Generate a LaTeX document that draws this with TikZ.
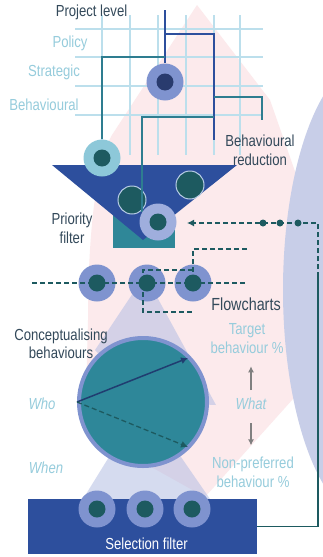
\documentclass[tikz,border=0pt]{standalone}
\usepackage{fontspec}
\setmainfont{Liberation Sans}
\newfontfamily\narrowsf[FakeStretch=0.82]{Liberation Sans}
\usetikzlibrary{arrows.meta}

\definecolor{pinkbg}{HTML}{FCEAEC}
\definecolor{ellipsebg}{HTML}{C8CEE8}
\definecolor{conefill}{HTML}{B4BEE3}
\definecolor{gridblue}{HTML}{BCDFEC}
\definecolor{skyblue}{HTML}{96CCDC}
\definecolor{slate}{HTML}{33495A}
\definecolor{navyblue}{HTML}{2D4F9D}
\definecolor{boxteal}{HTML}{2F8798}
\definecolor{lineteal}{HTML}{2E7D90}
\definecolor{darkteal}{HTML}{1D5A60}
\definecolor{lavender}{HTML}{7F93CF}
\definecolor{lavlight}{HTML}{9FAEDD}
\definecolor{cyanring}{HTML}{8DC8D9}
\definecolor{navydot}{HTML}{293B6E}
\definecolor{paleblue}{HTML}{B8CCE6}
\definecolor{tealmid}{HTML}{2E8799}
\definecolor{arrownavy}{HTML}{203D70}
\definecolor{grayarr}{HTML}{808080}

\begin{document}
\begin{tikzpicture}[x=1pt, y=-1pt, >={Latex[length=7pt,width=7pt]},
    lbl/.style={font=\narrowsf\fontsize{16}{19}\selectfont, inner sep=0pt},
    dark/.style={lbl, text=slate},
    light/.style={lbl, text=skyblue},
    ring/.style={circle, inner sep=0pt, minimum size=37pt, fill=lavender,
        path picture={\fill[#1] (path picture bounding box.center) circle (8.5pt);}},
    ring/.default=darkteal,
    pebble/.style={circle, inner sep=0pt, minimum size=28pt, fill=darkteal, draw=paleblue, line width=1pt},
    treeline/.style={draw=lineteal, line width=1.8pt},
    navyline/.style={draw=navyblue, line width=1.8pt},
    dashline/.style={draw=darkteal, line width=1.3pt, dash pattern=on 5pt off 3pt},
    cone/.style={fill=conefill, fill opacity=0.55},
    gridline/.style={draw=gridblue, line width=1.3pt},
    grayarrow/.style={draw=grayarr, line width=1.8pt, -{Latex[length=6pt,width=6pt]}}]
    \useasboundingbox (0,0) rectangle (322,557);
    \fill[white] (0,0) rectangle (322,557);

    % backdrop
    \fill[pinkbg] (197,5) -- (112,135) .. controls (95,165) and (88,240) .. (88,320)
        -- (85,430) -- (205,497) -- (310,380) -- (305,200) -- (270,100) -- cycle;
    \fill[ellipsebg] (370,290) ellipse [x radius=87pt, y radius=230pt];
    \fill[cone] (143,402) -- (83,499) -- (210,499) -- cycle;
    \fill[cone] (145,275) -- (216,405) -- (143,402) -- (95,350) -- cycle;

    % levels grid
    \foreach \y in {29,57,86,115} \draw[gridline] (75,\y) -- (263,\y);
    \foreach \x in {102,130,158,186,214,240} \draw[gridline] (\x,15) -- (\x,155);

    % priority funnel
    \node[fill=boxteal, minimum width=62pt, minimum height=38pt, inner sep=0pt] (outlet) at (144,229) {};
    \fill[navyblue] (52,165) -- (237,165) -- (143,240) -- cycle;
    \node[pebble] (p1) at (132,200) {};
    \node[pebble] (p2) at (190,185) {};

    \coordinate (plv) at (165,10);
    \node[ring=navydot] (goal) at (165,82) {};
    \node[ring, fill=cyanring] (policy) at (102,158) {};
    \draw[navyline] (plv) -- (goal);
    \coordinate (nj) at (165,34); \coordinate (nr) at (214,140);
    \draw[navyline] (nj) -| (nr);
    \coordinate (tj) at (214,97); \coordinate (tr) at (262,120);
    \draw[treeline] (tj) -| (tr);
    \coordinate (sj) at (165,57);
    \draw[treeline] (sj) -| (policy);
    \coordinate (bj) at (214,117); \coordinate (bd) at (142,212);
    \draw[treeline] (bj) -| (bd);
    \node[ring, fill=lavlight] (chosen) at (158,222) {};

    % flowchart row
    \node[ring] (f1) at (97,283) {};
    \node[ring] (f2) at (147,283) {};
    \node[ring] (f3) at (193,283) {};
    \coordinate (rl) at (32,283); \coordinate (rr) at (247,283);
    \draw[dashline] (rl) -- (rr);
    \coordinate (ub) at (247,249);
    \draw[dashline] (ub) -| (f3.center);
    \coordinate (l1) at (193,270); \coordinate (l2) at (143,312); \coordinate (l3) at (193,312);
    \draw[dashline] (l1) -| (l2) -- (l3);

    % conceptualising circle
    \node[circle, fill=tealmid, draw=lavender, line width=4pt, minimum size=128pt, inner sep=0pt] (concept) at (143,402) {};
    \coordinate (who) at (77,402); \coordinate (tgt) at (188,358); \coordinate (npf) at (188,447);
    \draw[->, draw=arrownavy, line width=1.5pt] (who) -- (tgt);
    \draw[->, dashline] (who) -- (npf);

    % selection filter
    \node[fill=navyblue, minimum width=229pt, minimum height=55pt, inner sep=0pt] (select) at (142.5,526.5) {};
    \node[ring] (s1) at (97,509) {};
    \node[ring] (s2) at (145,509) {};
    \node[ring] (s3) at (192,509) {};

    % feedback loop
    \coordinate (fbk) at (318,277); \coordinate (fin) at (187,223);
    \draw[draw=darkteal, line width=1.3pt] (select.east) -| (fbk);
    \draw[dashline, ->] (fbk) |- (fin);
    \foreach \x in {263,280,298} \fill[darkteal] (\x,223) circle (3.5pt);

    % labels
    \node[dark, anchor=base] (proj) at (91.5,16) {Project level};
    \node[light, anchor=base] (pol) at (70,47.5) {Policy};
    \node[light, anchor=base] (strat) at (54,76.5) {Strategic};
    \node[light, anchor=base] (behav) at (44,110) {Behavioural};
    \node[dark, align=center] (reduce) at (260,150) {Behavioural\\reduction};
    \node[dark, align=center] (prio) at (72,228) {Priority\\filter};
    \node[dark, anchor=base, font=\narrowsf\fontsize{17.5}{20}\selectfont] (flow) at (246,310) {Flowcharts};
    \node[dark, align=center, font=\narrowsf\fontsize{16}{17.5}\selectfont] (conc) at (61,344) {Conceptualising\\behaviours};
    \node[light, anchor=base] (wholbl) at (42,409) {\itshape Who};
    \node[light, anchor=base] (whenlbl) at (46,473) {\itshape When};
    \node[light, align=center] (target) at (247,339) {Target\\behaviour \%};
    \node[light, anchor=base] (what) at (251,409) {\itshape What};
    \node[light, align=center] (nonpref) at (253,472) {Non-preferred\\behaviour \%};
    \node[lbl, text=white, anchor=base] (sellbl) at (146.5,549.5) {Selection filter};

    \draw[grayarrow, shorten <=7pt, shorten >=12pt] (what.north) -- (what.north |- target.south);
    \draw[grayarrow, shorten <=14pt, shorten >=11pt] (what.south) -- (what.south |- nonpref.north);
\end{tikzpicture}
\end{document}
